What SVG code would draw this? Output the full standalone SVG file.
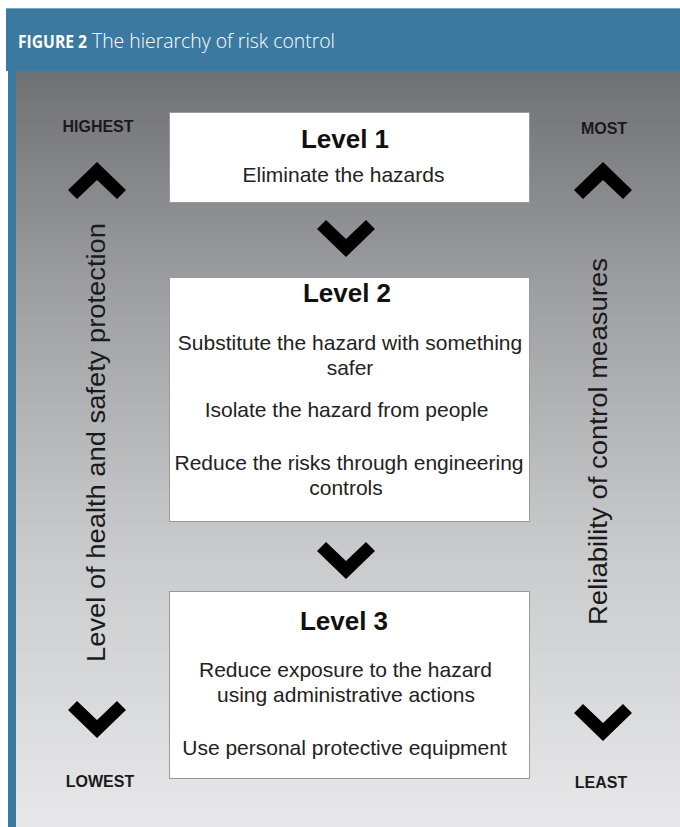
<svg xmlns="http://www.w3.org/2000/svg" width="680" height="827" viewBox="0 0 680 827">
  <defs>
    <linearGradient id="bg" x1="0" y1="71" x2="0" y2="827" gradientUnits="userSpaceOnUse">
      <stop offset="0" stop-color="#6f7073"/>
      <stop offset="0.3" stop-color="#9fa0a3"/>
      <stop offset="0.62" stop-color="#c8c9cb"/>
      <stop offset="1" stop-color="#e8e8ea"/>
    </linearGradient>
    <polygon id="up" points="0,0 29,28 20,37 0,18 -20,37 -29,28"/>
    <polygon id="down" points="0,0 -29,-28 -20,-37 0,-18 20,-37 29,-28"/>
  </defs>
  <style>
    .box { fill: #ffffff; stroke: #9a9a9a; stroke-width: 1; }
    .lvl { font-family: "Liberation Sans", Arial, sans-serif; font-weight: bold; font-size: 26px; fill: #111; text-anchor: middle; }
    .body { font-family: "Liberation Sans", Arial, sans-serif; font-size: 21px; fill: #222; text-anchor: middle; }
    .cap { font-family: "Liberation Sans", Arial, sans-serif; font-weight: bold; font-size: 16px; fill: #1a1a1a; text-anchor: middle; }
    .axis { font-family: "Liberation Sans", Arial, sans-serif; font-size: 26px; fill: #1a1a1a; text-anchor: middle; }
    .chev { fill: #000; }
  </style>
  <rect x="0" y="0" width="680" height="827" fill="#ffffff"/>
  <g id="header">
    <rect x="6" y="8" width="674" height="63" fill="#3b79a0"/>
    <line x1="6" y1="8.5" x2="680" y2="8.5" stroke="#7fa9c4" stroke-width="1"/>
    <text x="18" y="48" fill="#ffffff" font-family="'Open Sans', 'Liberation Sans', sans-serif"><tspan font-weight="bold" font-size="17" textLength="69" lengthAdjust="spacingAndGlyphs">FIGURE 2</tspan><tspan x="92" font-weight="300" font-size="21" textLength="243" lengthAdjust="spacingAndGlyphs">The hierarchy of risk control</tspan></text>
  </g>
  <rect x="8" y="71" width="8" height="756" fill="#3b79a0"/>
  <rect x="16" y="71" width="664" height="756" fill="url(#bg)"/>

  <g id="axis-left">
    <text class="cap" x="98" y="132">HIGHEST</text>
    <use href="#up" x="97" y="162" class="chev"/>
    <text class="axis" transform="translate(105,442.5) rotate(-90)" textLength="439" lengthAdjust="spacingAndGlyphs">Level of health and safety protection</text>
    <use href="#down" x="97" y="738" class="chev"/>
    <text class="cap" x="100" y="787">LOWEST</text>
  </g>

  <g id="axis-right">
    <text class="cap" x="604" y="134">MOST</text>
    <use href="#up" x="603" y="162" class="chev"/>
    <text class="axis" transform="translate(607,441.5) rotate(-90)" textLength="367" lengthAdjust="spacingAndGlyphs">Reliability of control measures</text>
    <use href="#down" x="603" y="741" class="chev"/>
    <text class="cap" x="601" y="788">LEAST</text>
  </g>

  <g id="level1">
    <rect class="box" x="169.5" y="112.5" width="360" height="90"/>
    <text class="lvl" x="345" y="148">Level 1</text>
    <text class="body" x="343.5" y="182">Eliminate the hazards</text>
  </g>

  <g id="level2">
    <rect class="box" x="169.5" y="277.5" width="360" height="244"/>
    <text class="lvl" x="347" y="302">Level 2</text>
    <text class="body" x="350" y="350">Substitute the hazard with something</text>
    <text class="body" x="350" y="375">safer</text>
    <text class="body" x="346.5" y="417">Isolate the hazard from people</text>
    <text class="body" x="349" y="470">Reduce the risks through engineering</text>
    <text class="body" x="346" y="495">controls</text>
  </g>

  <g id="level3">
    <rect class="box" x="169.5" y="591.5" width="360" height="187"/>
    <text class="lvl" x="344" y="630">Level 3</text>
    <text class="body" x="345.5" y="677">Reduce exposure to the hazard</text>
    <text class="body" x="346" y="702">using administrative actions</text>
    <text class="body" x="344.5" y="755">Use personal protective equipment</text>
  </g>

  <g id="connectors">
    <use href="#down" x="346" y="257" class="chev"/>
    <use href="#down" x="346" y="579" class="chev"/>
  </g>
</svg>
